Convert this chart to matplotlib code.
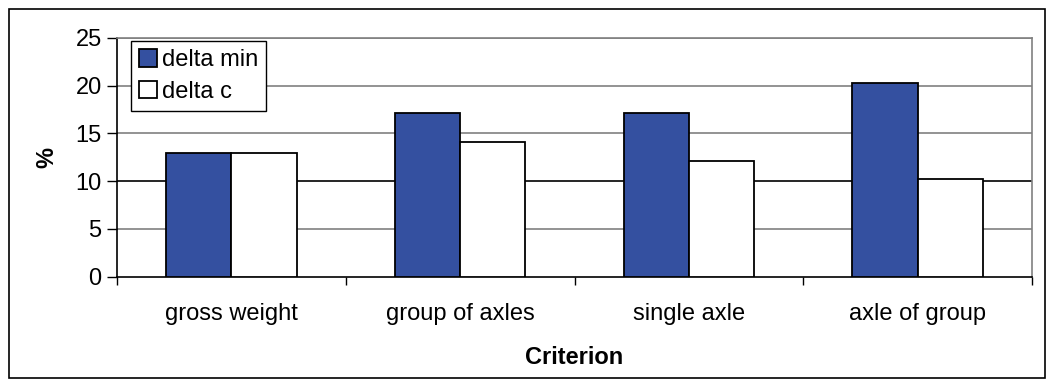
import numpy as np
import matplotlib.pyplot as plt
from matplotlib.patches import Rectangle

plt.rcParams['font.family'] = ['Liberation Sans', 'DejaVu Sans']

categories = ['gross weight', 'group of axles', 'single axle', 'axle of group']
delta_min = [13.0, 17.1, 17.1, 20.3]
delta_c = [13.0, 14.1, 12.1, 10.2]
yticks = [0, 5, 10, 15, 20, 25]

fig = plt.figure(figsize=(10.55, 3.87), dpi=100)
# figure frame
fig.patches.append(Rectangle((9 / 1055, 9 / 387), 1036 / 1055, 369 / 387,
                             transform=fig.transFigure, fill=False,
                             edgecolor='black', linewidth=1.2))

ax = fig.add_axes([117 / 1055, (387 - 276.7) / 387, 915 / 1055, 238.7 / 387])

x = np.arange(len(categories))
w = 1 / 3.5
ax.bar(x - w / 2, delta_min, w, color='#3450A0', edgecolor='black',
       linewidth=1.3, label='delta min', zorder=3)
ax.bar(x + w / 2, delta_c, w, color='white', edgecolor='black',
       linewidth=1.3, label='delta c', zorder=3)

ax.set_xlim(-0.5, len(categories) - 0.5)
ax.set_ylim(0, 25)
ax.set_yticks(yticks)
for t in yticks[1:]:
    ax.axhline(t, color='black' if t == 10 else '#808080', linewidth=1.2, zorder=1)

ax.set_xticks(x)
ax.set_xticklabels(categories, fontsize=17)
ax.tick_params(axis='x', length=0, pad=19)
ax.set_xticks(np.arange(-0.5, len(categories)), minor=True)
ax.tick_params(axis='x', which='minor', length=6, width=1, direction='out')
ax.tick_params(axis='y', length=7, width=1, direction='out', labelsize=17, pad=4)

ax.spines['left'].set_color('black')
ax.spines['bottom'].set_color('black')
ax.spines['top'].set_color('#808080')
ax.spines['right'].set_color('#808080')
for s in ax.spines.values():
    s.set_linewidth(1.2)

ax.set_ylabel('%', fontsize=17, fontweight='bold', labelpad=12)
ax.set_xlabel('Criterion', fontsize=17, fontweight='bold', labelpad=15)

leg = ax.legend(loc='upper left', bbox_to_anchor=(14 / 915, 1 - 3 / 238.7),
                fontsize=17, frameon=True, fancybox=False, framealpha=1,
                edgecolor='black', handlelength=0.75, handleheight=0.75,
                handletextpad=0.2, borderpad=0.35, labelspacing=0.4,
                borderaxespad=0)
leg.get_frame().set_linewidth(1)
leg.set_zorder(5)

fig.savefig('out.png', dpi=100)
